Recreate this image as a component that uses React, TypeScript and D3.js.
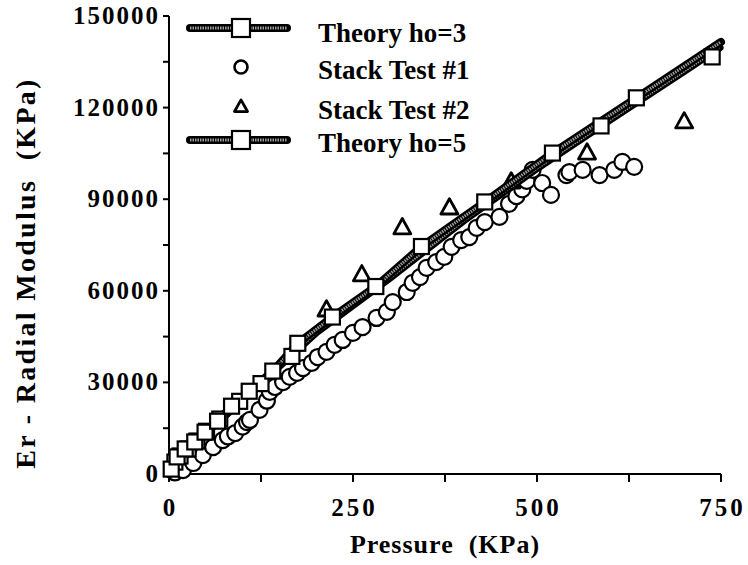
import React from "react";
import * as d3 from "d3";

// theory curves (pressure KPa, modulus KPa)
const theory3P = [0, 3, 11, 22, 35, 49, 66, 85, 109, 141, 175, 222, 281, 343, 429, 521, 635, 750];
const theory3E = [0, 1600, 5600, 8200, 10500, 13700, 17300, 22200, 27100, 33700, 42800, 51400, 61400, 74500, 89100, 105100, 123200, 141500];
const theory3MarkP = [3, 11, 22, 35, 49, 66, 85, 109, 141, 175, 222, 281, 343, 429, 521, 635];
const theory3MarkE = [1600, 5600, 8200, 10500, 13700, 17300, 22200, 27100, 33700, 42800, 51400, 61400, 74500, 89100, 105100, 123200];

const theory5P = [0, 20, 60, 120, 200, 300, 400, 500, 600, 700, 748];
const theory5E = [0, 7400, 15600, 28800, 46400, 64300, 83000, 100200, 116200, 132000, 139700];
const theory5MarkP = [8, 15, 26, 38, 51, 69, 96, 125, 167, 587, 738];
const theory5MarkE = [3900, 5900, 8200, 10800, 14000, 18000, 23800, 29600, 38500, 114000, 136600];

const test1P = [8, 19, 33, 46, 60, 73, 80, 90, 100, 106, 110, 123, 133, 137, 144, 155, 164, 174, 182, 194, 202, 214, 225, 236, 250, 263, 282, 296, 304, 323, 331, 341, 350, 363, 374, 384, 397, 408, 418, 429, 449, 462, 472, 480, 486, 494, 507, 519, 540, 544, 562, 585, 605, 616, 632];
const test1E = [500, 1300, 3600, 6200, 8800, 11100, 12300, 13400, 15500, 17000, 17700, 21000, 24000, 26900, 28500, 30100, 31800, 33100, 34700, 36400, 38300, 40000, 42300, 43900, 46200, 48100, 51100, 53100, 56300, 59600, 62600, 64500, 67500, 69400, 71100, 74400, 76600, 77600, 80600, 82500, 84200, 88500, 91000, 93200, 96000, 99600, 95300, 91400, 97900, 98900, 99600, 97900, 99600, 102200, 100600];

const test2P = [214, 262, 317, 381, 465, 568, 700];
const test2E = [53700, 65200, 80600, 87100, 95600, 105100, 115300];

const xTicks = [0, 250, 500, 750];
const xMinor = [125, 375, 625];
const yTicks = [0, 30000, 60000, 90000, 120000, 150000];
const yMinor = [15000, 45000, 75000, 105000, 135000];

const legendLabels = ["Theory ho=3", "Stack Test #1", "Stack Test #2", "Theory ho=5"];

const FONT = "'Liberation Serif', 'Times New Roman', Times, serif";

const zip = (a: number[], b: number[]) => a.map((v, i) => [v, b[i]] as [number, number]);

const TheoryLine = ({ d }: { d: string }) => (
  <g>
    <path d={d} fill="none" stroke="#000" strokeWidth={8} strokeLinecap="round" strokeLinejoin="round" />
    <path d={d} fill="none" stroke="#9c9c9c" strokeWidth={3} strokeDasharray="1.5 1" />
  </g>
);

const Square = ({ cx, cy, s = 15 }: { cx: number; cy: number; s?: number }) => (
  <rect x={cx - s / 2} y={cy - s / 2} width={s} height={s} fill="#fff" stroke="#000" strokeWidth={2.2} />
);

const Tri = ({ cx, cy, s = 17 }: { cx: number; cy: number; s?: number }) => (
  <path
    d={`M${cx},${cy - s * 0.55}L${cx + s / 2},${cy + s * 0.35}L${cx - s / 2},${cy + s * 0.35}Z`}
    fill="#fff"
    stroke="#000"
    strokeWidth={2.8}
    strokeLinejoin="round"
  />
);

export default function App() {
  const W = 748;
  const H = 565;
  const x = d3.scaleLinear().domain([0, 750]).range([169, 721]);
  const y = d3.scaleLinear().domain([0, 150000]).range([474, 16]);
  const line = d3.line<[number, number]>().x(d => x(d[0])).y(d => y(d[1]));

  const t3 = zip(theory3P, theory3E);
  const t5 = zip(theory5P, theory5E);
  const m3 = zip(theory3MarkP, theory3MarkE);
  const m5 = zip(theory5MarkP, theory5MarkE);
  const s1 = zip(test1P, test1E);
  const s2 = zip(test2P, test2E);

  const legX = 241;
  const legRows = [28, 67, 107, 140];
  const txt = { fontFamily: FONT, fontWeight: 700 } as React.CSSProperties;

  return (
    <div style={{ position: "absolute", left: 0, top: 0 }}>
      <svg width={W} height={H} style={{ display: "block", background: "#fff" }}>
        {/* axes */}
        <line x1={x(0)} x2={x(750)} y1={y(0)} y2={y(0)} stroke="#000" strokeWidth={2} />
        <line x1={x(0)} x2={x(0)} y1={y(0)} y2={y(150000)} stroke="#000" strokeWidth={2} />
        {xTicks.concat(xMinor).map(v => (
          <line key={"xt" + v} x1={x(v)} x2={x(v)} y1={y(0)} y2={y(0) + 8} stroke="#000" strokeWidth={2} />
        ))}
        {yTicks.concat(yMinor).map(v => (
          <line key={"yt" + v} x1={x(0) - 6} x2={x(0)} y1={y(v)} y2={y(v)} stroke="#000" strokeWidth={2} />
        ))}
        {xTicks.map(v => (
          <text key={"xl" + v} style={txt} x={x(v) + 1.5} y={516} textAnchor="middle" fontSize={25} letterSpacing={3}>
            {v}
          </text>
        ))}
        {yTicks.map(v => (
          <text key={"yl" + v} style={txt} x={160} y={y(v) + 8} textAnchor="end" fontSize={25} letterSpacing={2}>
            {v}
          </text>
        ))}
        <text style={{ ...txt, whiteSpace: "pre" }} x={445} y={553} textAnchor="middle" fontSize={26} letterSpacing={1}>
          {"Pressure  (KPa)"}
        </text>
        <text
          style={{ ...txt, whiteSpace: "pre" }}
          transform={`translate(35, 273) rotate(-90)`}
          textAnchor="middle"
          fontSize={28}
          letterSpacing={2.3}
        >
          {"Er - Radial Modulus  (KPa)"}
        </text>

        {/* Stack Test #1 */}
        {s1.map((d, i) => (
          <circle key={"c" + i} cx={x(d[0])} cy={y(d[1])} r={8} fill="#fff" stroke="#000" strokeWidth={2.2} />
        ))}
        {/* Stack Test #2 */}
        {s2.map((d, i) => (
          <Tri key={"t" + i} cx={x(d[0])} cy={y(d[1])} />
        ))}
        {/* theory lines */}
        <TheoryLine d={line(t5) || ""} />
        <TheoryLine d={line(t3) || ""} />
        {m5.map((d, i) => (
          <Square key={"s5" + i} cx={x(d[0])} cy={y(d[1])} />
        ))}
        {m3.map((d, i) => (
          <Square key={"s3" + i} cx={x(d[0])} cy={y(d[1])} />
        ))}

        {/* legend */}
        <TheoryLine d={`M190,${legRows[0]}H287`} />
        <Square cx={legX} cy={legRows[0]} s={18} />
        <circle cx={legX} cy={legRows[1]} r={6.5} fill="#fff" stroke="#000" strokeWidth={2.6} />
        <Tri cx={legX} cy={legRows[2]} s={13} />
        <TheoryLine d={`M190,${legRows[3]}H287`} />
        <Square cx={legX} cy={legRows[3]} s={18} />
        {legendLabels.map((t, i) => (
          <text key={t} style={txt} x={318} y={[42, 79, 119, 152][i]} fontSize={27}>
            {t}
          </text>
        ))}
      </svg>
    </div>
  );
}
